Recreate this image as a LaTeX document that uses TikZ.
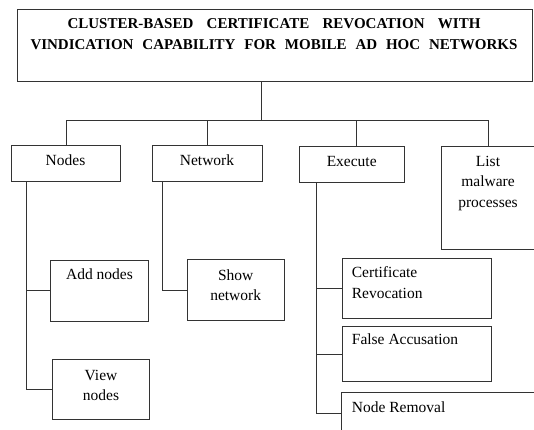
\documentclass[tikz,border=0pt]{standalone}
\usepackage{fontspec}
\setmainfont{Liberation Serif}
\begin{document}
\begin{tikzpicture}[x=1pt, y=-1pt,
  linec/.style={black!80},
  box/.style={draw=black!80, line width=1pt, inner sep=0pt, anchor=north west, fill=white},
  wire/.style={draw=black!80, line width=1pt},
  txt/.style={inner sep=0pt, anchor=base, font=\fontsize{15.5}{20.5}\selectfont},
  ttl/.style={inner sep=0pt, anchor=base, font=\fontsize{15}{19}\selectfont\bfseries}]
\clip (0,0) rectangle (534,429);
\fill[white] (0,0) rectangle (534,429);

% boxes
\node[box, minimum width=515pt, minimum height=72.5pt] (title) at (16.5,8.5) {};
\node[box, minimum width=109pt, minimum height=36pt] (nodes) at (11,144.7) {};
\node[box, minimum width=109.4pt, minimum height=36pt] (network) at (152.3,144.7) {};
\node[box, minimum width=105.3pt, minimum height=36.6pt] (execute) at (299,145.7) {};
\node[box, minimum width=94.6pt, minimum height=103.3pt] (list) at (440.7,145.7) {};
\node[box, minimum width=97.4pt, minimum height=60.7pt] (addnodes) at (50.3,260) {};
\node[box, minimum width=97pt, minimum height=60.6pt] (viewnodes) at (52.3,358.7) {};
\node[box, minimum width=96.7pt, minimum height=60.7pt] (shownet) at (187.3,259.3) {};
\node[box, minimum width=149.3pt, minimum height=60.3pt] (certrev) at (341.7,257.7) {};
\node[box, minimum width=149.3pt, minimum height=55pt] (falseacc) at (341.7,326) {};
\node[box, minimum width=200pt, minimum height=41.4pt] (noderem) at (340.7,392) {};

% texts
\node[ttl] (tline1) at (274,28.5) {\makebox[413pt][s]{CLUSTER-BASED CERTIFICATE REVOCATION WITH}};
\node[ttl] (tline2) at (274,49.5) {\makebox[487pt][s]{VINDICATION CAPABILITY FOR MOBILE AD HOC NETWORKS}};
\node[txt] (tnodes) at (65.5,165) {Nodes};
\node[txt] (tnetwork) at (207,165) {Network};
\node[txt] (texecute) at (351.7,166) {Execute};
\node[txt] (tlist) at (488,166) {\parbox[t]{90pt}{\centering List\\malware\\processes}};
\node[txt] (tadd) at (99.5,279) {Add nodes};
\node[txt] (tview) at (101,380) {\parbox[t]{90pt}{\centering View\\nodes}};
\node[txt] (tshow) at (235.7,280) {\parbox[t]{90pt}{\centering Show\\network}};
\node[txt, anchor=base west] (tcert) at (351.7,277.7) {\parbox[t]{135pt}{\raggedright Certificate\\Revocation}};
\node[txt, anchor=base west] (tfalse) at (351.7,344.3) {False Accusation};
\node[txt, anchor=base west] (tremove) at (351.7,412) {Node Removal};

% connector positions
\coordinate (hub) at (261.3,120);
\coordinate (exdrop) at (356,120);
\coordinate (nsp) at (26,0);
\coordinate (wsp) at (162.7,0);
\coordinate (esp) at (316.7,0);

% main tree
\draw[wire] (title.south -| hub) -- (hub);
\draw[wire] (nodes.north) -- (nodes.north |- hub) -- (list.north |- hub) -- (list.north);
\draw[wire] (network.north) -- (network.north |- hub);
\draw[wire] (execute.north -| exdrop) -- (exdrop);

% sub-branches
\draw[wire] (nodes.south -| nsp) |- (addnodes.west);
\draw[wire] (nodes.south -| nsp) |- (viewnodes.west);
\draw[wire] (network.south -| wsp) |- (shownet.west);
\draw[wire] (execute.south -| esp) |- (certrev.west);
\draw[wire] (execute.south -| esp) |- (falseacc.west);
\draw[wire] (execute.south -| esp) |- (noderem.west);
\end{tikzpicture}
\end{document}
